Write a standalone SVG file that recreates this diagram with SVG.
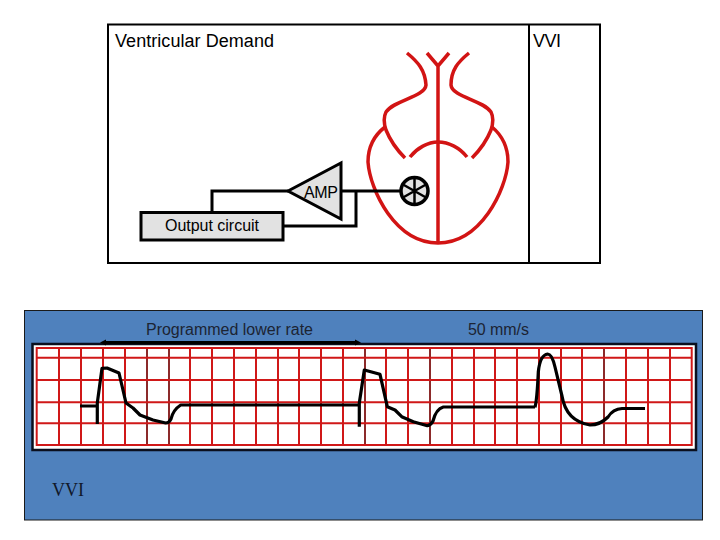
<svg xmlns="http://www.w3.org/2000/svg" width="720" height="540" viewBox="0 0 720 540">
<style>
text{font-family:"Liberation Sans",Arial,sans-serif;fill:#000}
.lbl{font-size:16px;fill:#1c2433}
.w{fill:none;stroke:#000;stroke-width:3;stroke-linejoin:miter}
.h{fill:none;stroke:#d21414;stroke-width:3.500;stroke-linecap:butt}
.g{stroke:#d01818;stroke-width:2;fill:none}
.d{stroke:#8c2a2a;stroke-width:2;fill:none}
.t{fill:none;stroke:#000;stroke-width:3.200;stroke-linejoin:round}
</style>
<rect width="720" height="540" fill="#fff"/>
<g id="frame">
<rect x="108" y="24.500" width="492" height="238.500" fill="#fff" stroke="#000" stroke-width="2"/>
<line x1="529" y1="24" x2="529" y2="263" stroke="#000" stroke-width="2"/>
<text x="115" y="47" font-size="18" textLength="159">Ventricular Demand</text>
<text x="533" y="47" font-size="18" textLength="28">VVI</text>
</g>
<g id="heart">
<path class="h" d="M385 127C372 137 368 150 368 162C370 190 395 243 438 243C481 243 506 190 508 162C508 150 504 137 492 127"/>
<path class="h" d="M407 53C418 62 425 70 426 85C425 97 394 100 386 112C383 118 384 124 386 130C390 140 397 150 405 158"/>
<path class="h" d="M469 53C458 62 451 70 451 85C452 97 483 100 491 112C494 118 493 124 491 130C487 140 480 150 472 158"/>
<path class="h" d="M427 53L438 66L449 53M438 66V243"/>
<path class="h" d="M410 157C417 148 428 142 438 142C449 142 460 148 467 157"/>
</g>
<g id="electrode">
<circle cx="414.500" cy="191" r="13.500" fill="#e2e2e2" stroke="#000" stroke-width="3.500"/>
<path d="M414.500 178V204M403 184.500L426 197.500M403 197.500L426 184.500" stroke="#000" stroke-width="2.500" fill="none"/>
</g>
<g id="connectors">
<path class="w" d="M341 191H402"/>
<path class="w" d="M356 191V226H283"/>
<path class="w" d="M212 212V191H288"/>
</g>
<g id="amp">
<path d="M288 191L341 163V219Z" fill="#e2e2e2" stroke="#000" stroke-width="3"/>
<text x="304" y="198" font-size="16" textLength="34" fill="#222">AMP</text>
</g>
<g id="output">
<rect x="141" y="212.500" width="142" height="27.500" fill="#e2e2e2" stroke="#000" stroke-width="3"/>
<text x="165" y="231" font-size="16" textLength="94" fill="#222">Output circuit</text>
</g>
<g id="ecg-panel">
<rect x="24.500" y="310.500" width="678" height="209.500" fill="#4f81bd" stroke="#1a1a1a" stroke-width="1"/>
<rect x="32.500" y="344" width="663.500" height="106" fill="#fff" stroke="#0a0f1e" stroke-width="2.500"/>
<path class="g" d="M59 348V445M81 348V445M103 348V445M125 348V445M190 348V445M212 348V445M234 348V445M256 348V445M278 348V445M299 348V445M321 348V445M343 348V445M386 348V445M408 348V445M452 348V445M474 348V445M495 348V445M517 348V445M539 348V445M561 348V445M582 348V445M626 348V445M648 348V445M670 348V445"/>
<path class="d" d="M147 348V445M169 348V445M365 348V445M430 348V445M604 348V445"/>
<path class="g" d="M36.700 357.700H691.700M36.700 380H691.700M36.700 402.300H691.700M36.700 423.300H691.700"/>
<rect x="36.700" y="348" width="655" height="97" fill="none" stroke="#d01818" stroke-width="2"/>
<text class="lbl" x="146" y="335" textLength="167">Programmed lower rate</text>
<text class="lbl" x="468" y="335" textLength="61">50 mm/s</text>
<text x="52" y="496" font-size="18" style="font-family:'Liberation Serif','Times New Roman',serif;fill:#10182a">VVI</text>
</g>
<g id="ecg-trace">
<path d="M103 342.500H358" stroke="#000" stroke-width="3" fill="none"/>
<path d="M100 342.500L106 339.500V345.500ZM361 342.500L355 339.500V345.500Z" fill="#000"/>
<path class="t" d="M80 406H97.300M97.300 424V403L102 368.300L107 368L119 373L126 403L133 408L140 415L153 420L165.700 423Q169 423 171 419Q173 410 180.700 405H359"/>
<path class="t" d="M359.300 426.700V403L364.300 370L380 374.300L387.300 406.700L395 410L401.700 416.700L413.300 421.700L427.300 425.700Q431 425 433 421Q436 409 443.300 407H535"/>
<path class="t" d="M535 407.300Q537 400 538.300 372Q540 355 547.700 354Q552 354 555 367L562 396Q566 421 590 425Q600 425 608 417Q613 409 622 408.500H645"/>
</g>
</svg>
